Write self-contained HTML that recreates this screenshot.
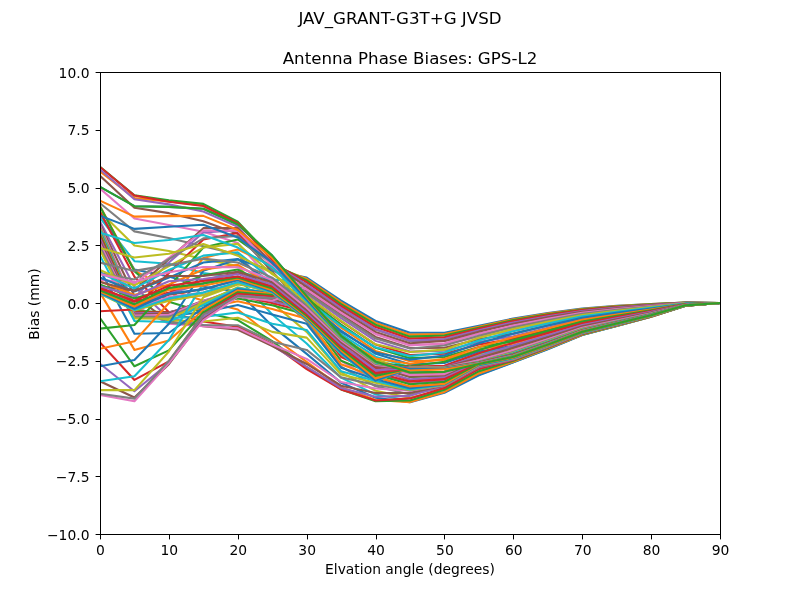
<!DOCTYPE html>
<html lang="en"><head><meta charset="utf-8"><title>JAV_GRANT-G3T+G JVSD</title>
<style>html,body{margin:0;padding:0;background:#fff}svg{display:block}text{font-family:'DejaVu Sans','Liberation Sans',sans-serif;fill:#000}</style></head><body>
<svg width="800" height="600" viewBox="0 0 800 600">
<rect width="800" height="600" fill="#fff"/>
<defs><clipPath id="ax"><rect x="100" y="72" width="620" height="462"/></clipPath></defs>
<g clip-path="url(#ax)" fill="none" stroke-width="2.083" stroke-linejoin="round" stroke-linecap="square">
<polyline stroke="#1f77b4" points="100.00,186.81 134.44,206.21 168.89,206.90 203.33,208.75 237.78,224.46 272.22,255.64 306.67,296.07 341.11,335.80 375.56,361.44 410.00,372.53 444.44,371.84 478.89,364.10 513.33,356.82 547.78,344.62 582.22,331.75 616.67,323.53 651.11,315.23 685.56,305.36 720.00,303.00"/>
<polyline stroke="#ff7f0e" points="100.00,171.33 134.44,198.13 168.89,201.36 203.33,205.52 237.78,223.31 272.22,257.26 306.67,296.53 341.11,337.16 375.56,362.78 410.00,374.59 444.44,373.82 478.89,364.79 513.33,357.33 547.78,345.03 582.22,332.06 616.67,323.76 651.11,315.37 685.56,305.40 720.00,303.00"/>
<polyline stroke="#2ca02c" points="100.00,166.71 134.44,195.35 168.89,200.21 203.33,203.90 237.78,221.69 272.22,257.96 306.67,297.92 341.11,339.96 375.56,365.37 410.00,376.92 444.44,375.76 478.89,365.83 513.33,357.98 547.78,345.57 582.22,332.45 616.67,324.07 651.11,315.57 685.56,305.45 720.00,303.00"/>
<polyline stroke="#d62728" points="100.00,166.94 134.44,195.58 168.89,201.82 203.33,205.98 237.78,223.07 272.22,260.26 306.67,300.23 341.11,344.01 375.56,368.47 410.00,380.19 444.44,378.03 478.89,366.91 513.33,358.66 547.78,346.13 582.22,332.86 616.67,324.38 651.11,315.77 685.56,305.50 720.00,303.00"/>
<polyline stroke="#9467bd" points="100.00,169.48 134.44,199.28 168.89,204.36 203.33,211.52 237.78,226.77 272.22,264.88 306.67,303.46 341.11,349.20 375.56,372.30 410.00,383.85 444.44,380.38 478.89,368.14 513.33,359.36 547.78,346.72 582.22,333.29 616.67,324.71 651.11,315.97 685.56,305.55 720.00,303.00"/>
<polyline stroke="#8c564b" points="100.00,175.72 134.44,207.83 168.89,213.14 203.33,221.23 237.78,233.70 272.22,271.81 306.67,307.62 341.11,354.81 375.56,376.75 410.00,387.31 444.44,382.69 478.89,369.63 513.33,360.07 547.78,347.30 582.22,333.72 616.67,325.04 651.11,316.18 685.56,305.60 720.00,303.00"/>
<polyline stroke="#e377c2" points="100.00,188.66 134.44,218.45 168.89,224.92 203.33,231.85 237.78,242.94 272.22,281.06 306.67,313.39 341.11,360.75 375.56,381.54 410.00,390.78 444.44,385.00 478.89,371.14 513.33,360.75 547.78,347.86 582.22,334.13 616.67,325.35 651.11,316.38 685.56,305.65 720.00,303.00"/>
<polyline stroke="#7f7f7f" points="100.00,203.21 134.44,231.39 168.89,238.09 203.33,246.17 237.78,254.49 272.22,291.45 306.67,321.48 341.11,366.60 375.56,386.32 410.00,394.42 444.44,387.31 478.89,372.51 513.33,361.40 547.78,348.40 582.22,334.53 616.67,325.65 651.11,316.58 685.56,305.70 720.00,303.00"/>
<polyline stroke="#bcbd22" points="100.00,211.75 134.44,245.48 168.89,251.02 203.33,259.11 237.78,266.04 272.22,303.00 306.67,331.88 341.11,372.30 375.56,390.78 410.00,397.71 444.44,389.62 478.89,373.69 513.33,361.90 547.78,348.82 582.22,334.83 616.67,325.89 651.11,316.72 685.56,305.74 720.00,303.00"/>
<polyline stroke="#17becf" points="100.00,217.76 134.44,261.19 168.89,263.73 203.33,272.97 237.78,277.59 272.22,314.55 306.67,343.43 341.11,377.65 375.56,394.56 410.00,400.71 444.44,391.94 478.89,374.74 513.33,362.22 547.78,349.08 582.22,335.02 616.67,326.03 651.11,316.82 685.56,305.76 720.00,303.00"/>
<polyline stroke="#1f77b4" points="100.00,212.91 134.44,269.50 168.89,276.44 203.33,286.83 237.78,291.45 272.22,326.10 306.67,353.82 341.11,382.69 375.56,397.71 410.00,402.33 444.44,392.86 478.89,375.30 513.33,362.37 547.78,349.20 582.22,335.11 616.67,326.10 651.11,316.86 685.56,305.77 720.00,303.00"/>
<polyline stroke="#ff7f0e" points="100.00,205.98 134.44,270.66 168.89,289.14 203.33,300.69 237.78,309.47 272.22,336.50 306.67,361.90 341.11,387.31 375.56,400.02 410.00,402.10 444.44,391.94 478.89,373.45 513.33,361.67 547.78,348.63 582.22,334.69 616.67,325.78 651.11,316.66 685.56,305.72 720.00,303.00"/>
<polyline stroke="#2ca02c" points="100.00,206.44 134.44,271.12 168.89,301.84 203.33,312.24 237.78,320.09 272.22,341.12 306.67,367.22 341.11,389.39 375.56,401.18 410.00,400.48 444.44,389.86 478.89,371.14 513.33,360.75 547.78,347.86 582.22,334.13 616.67,325.35 651.11,316.38 685.56,305.65 720.00,303.00"/>
<polyline stroke="#d62728" points="100.00,211.99 134.44,276.67 168.89,312.24 203.33,321.48 237.78,326.79 272.22,344.12 306.67,369.07 341.11,389.39 375.56,400.48 410.00,398.40 444.44,388.01 478.89,368.83 513.33,360.10 547.78,347.33 582.22,333.74 616.67,325.05 651.11,316.19 685.56,305.60 720.00,303.00"/>
<polyline stroke="#9467bd" points="100.00,221.46 134.44,286.83 168.89,318.01 203.33,324.94 237.78,328.87 272.22,345.50 306.67,366.99 341.11,388.01 375.56,396.79 410.00,395.86 444.44,385.81 478.89,367.22 513.33,359.60 547.78,346.91 582.22,333.43 616.67,324.82 651.11,316.04 685.56,305.57 720.00,303.00"/>
<polyline stroke="#8c564b" points="100.00,223.87 134.44,296.07 168.89,321.48 203.33,326.10 237.78,329.80 272.22,345.97 306.67,363.98 341.11,385.70 375.56,393.09 410.00,392.86 444.44,385.47 478.89,366.52 513.33,359.21 547.78,346.59 582.22,333.20 616.67,324.64 651.11,315.93 685.56,305.54 720.00,303.00"/>
<polyline stroke="#e377c2" points="100.00,225.38 134.44,305.31 168.89,323.79 203.33,326.10 237.78,328.18 272.22,344.58 306.67,358.90 341.11,382.00 375.56,388.47 410.00,390.78 444.44,385.22 478.89,366.06 513.33,358.90 547.78,346.34 582.22,333.01 616.67,324.50 651.11,315.84 685.56,305.52 720.00,303.00"/>
<polyline stroke="#7f7f7f" points="100.00,226.99 134.44,307.62 168.89,322.63 203.33,324.94 237.78,325.18 272.22,341.81 306.67,349.89 341.11,377.38 375.56,385.00 410.00,390.32 444.44,385.00 478.89,365.68 513.33,358.66 547.78,346.14 582.22,332.87 616.67,324.39 651.11,315.77 685.56,305.50 720.00,303.00"/>
<polyline stroke="#bcbd22" points="100.00,228.45 134.44,308.77 168.89,320.32 203.33,321.48 237.78,317.78 272.22,331.88 306.67,337.65 341.11,374.61 375.56,382.69 410.00,389.86 444.44,384.77 478.89,365.37 513.33,358.47 547.78,345.98 582.22,332.75 616.67,324.30 651.11,315.71 685.56,305.49 720.00,303.00"/>
<polyline stroke="#17becf" points="100.00,229.87 134.44,309.41 168.89,317.93 203.33,316.86 237.78,312.47 272.22,323.79 306.67,330.03 341.11,371.14 375.56,380.95 410.00,389.39 444.44,384.54 478.89,365.16 513.33,358.27 547.78,345.81 582.22,332.63 616.67,324.20 651.11,315.65 685.56,305.47 720.00,303.00"/>
<polyline stroke="#1f77b4" points="100.00,231.39 134.44,309.93 168.89,315.71 203.33,312.24 237.78,305.08 272.22,314.55 306.67,323.79 341.11,367.68 375.56,379.23 410.00,388.24 444.44,384.31 478.89,364.91 513.33,357.98 547.78,345.57 582.22,332.45 616.67,324.07 651.11,315.57 685.56,305.45 720.00,303.00"/>
<polyline stroke="#ff7f0e" points="100.00,232.98 134.44,310.46 168.89,313.48 203.33,308.32 237.78,301.22 272.22,309.03 306.67,318.71 341.11,364.26 375.56,377.00 410.00,386.39 444.44,383.85 478.89,364.34 513.33,357.50 547.78,345.17 582.22,332.16 616.67,323.84 651.11,315.42 685.56,305.41 720.00,303.00"/>
<polyline stroke="#2ca02c" points="100.00,234.59 134.44,311.08 168.89,312.24 203.33,305.31 237.78,298.38 272.22,305.31 306.67,314.55 341.11,360.75 375.56,374.61 410.00,384.31 444.44,381.77 478.89,363.52 513.33,356.79 547.78,344.59 582.22,331.74 616.67,323.52 651.11,315.22 685.56,305.36 720.00,303.00"/>
<polyline stroke="#d62728" points="100.00,236.34 134.44,312.06 168.89,312.39 203.33,303.14 237.78,295.74 272.22,302.98 306.67,311.97 341.11,356.98 375.56,372.34 410.00,381.77 444.44,379.23 478.89,362.47 513.33,355.93 547.78,343.88 582.22,331.22 616.67,323.12 651.11,314.96 685.56,305.30 720.00,303.00"/>
<polyline stroke="#9467bd" points="100.00,238.32 134.44,313.31 168.89,312.80 203.33,301.40 237.78,293.40 272.22,301.23 306.67,309.93 341.11,353.07 375.56,370.07 410.00,379.23 444.44,376.92 478.89,361.21 513.33,354.98 547.78,343.09 582.22,330.63 616.67,322.68 651.11,314.68 685.56,305.23 720.00,303.00"/>
<polyline stroke="#8c564b" points="100.00,240.68 134.44,314.55 168.89,313.39 203.33,300.69 237.78,291.45 272.22,299.53 306.67,308.05 341.11,349.20 375.56,367.68 410.00,376.69 444.44,375.30 478.89,359.90 513.33,353.82 547.78,342.13 582.22,329.93 616.67,322.14 651.11,314.34 685.56,305.14 720.00,303.00"/>
<polyline stroke="#e377c2" points="100.00,243.41 134.44,315.62 168.89,314.78 203.33,301.02 237.78,289.60 272.22,297.49 306.67,306.47 341.11,345.39 375.56,365.11 410.00,375.07 444.44,374.15 478.89,358.44 513.33,352.39 547.78,340.96 582.22,329.07 616.67,321.48 651.11,313.92 685.56,305.04 720.00,303.00"/>
<polyline stroke="#7f7f7f" points="100.00,246.41 134.44,316.86 168.89,316.86 203.33,301.87 237.78,287.99 272.22,295.50 306.67,305.25 341.11,341.58 375.56,362.41 410.00,372.72 444.44,371.80 478.89,356.76 513.33,350.81 547.78,339.65 582.22,328.12 616.67,320.75 651.11,313.45 685.56,304.92 720.00,303.00"/>
<polyline stroke="#bcbd22" points="100.00,249.87 134.44,318.34 168.89,318.81 203.33,303.00 237.78,287.29 272.22,294.22 306.67,304.16 341.11,337.81 375.56,359.61 410.00,369.99 444.44,368.83 478.89,354.98 513.33,349.20 547.78,338.32 582.22,327.14 616.67,320.00 651.11,312.98 685.56,304.80 720.00,303.00"/>
<polyline stroke="#17becf" points="100.00,255.64 134.44,321.02 168.89,321.94 203.33,305.03 237.78,287.93 272.22,293.58 306.67,303.07 341.11,334.17 375.56,356.74 410.00,367.17 444.44,366.00 478.89,353.30 513.33,347.56 547.78,336.96 582.22,326.15 616.67,319.24 651.11,312.50 685.56,304.68 720.00,303.00"/>
<polyline stroke="#1f77b4" points="100.00,269.97 134.44,333.72 168.89,333.03 203.33,307.62 237.78,289.14 272.22,293.30 306.67,301.84 341.11,330.72 375.56,353.82 410.00,364.22 444.44,363.06 478.89,351.51 513.33,345.74 547.78,335.46 582.22,325.04 616.67,318.40 651.11,311.96 685.56,304.55 720.00,303.00"/>
<polyline stroke="#ff7f0e" points="100.00,292.61 134.44,349.89 168.89,340.42 203.33,309.93 237.78,290.52 272.22,293.87 306.67,300.22 341.11,327.57 375.56,350.88 410.00,361.22 444.44,360.03 478.89,349.39 513.33,343.62 547.78,333.71 582.22,323.76 616.67,317.42 651.11,311.33 685.56,304.39 720.00,303.00"/>
<polyline stroke="#2ca02c" points="100.00,318.01 134.44,366.29 168.89,350.36 203.33,312.24 237.78,292.17 272.22,295.15 306.67,298.25 341.11,324.58 375.56,347.85 410.00,358.16 444.44,356.92 478.89,347.05 513.33,341.27 547.78,331.77 582.22,322.34 616.67,316.33 651.11,310.64 685.56,304.22 720.00,303.00"/>
<polyline stroke="#d62728" points="100.00,342.50 134.44,379.92 168.89,361.44 203.33,314.55 237.78,293.76 272.22,296.53 306.67,296.07 341.11,321.48 375.56,344.58 410.00,354.98 444.44,353.82 478.89,344.58 513.33,338.81 547.78,329.73 582.22,320.85 616.67,315.19 651.11,309.92 685.56,304.04 720.00,303.00"/>
<polyline stroke="#9467bd" points="100.00,363.75 134.44,391.24 168.89,363.06 203.33,317.07 237.78,295.42 272.22,298.15 306.67,293.60 341.11,318.11 375.56,340.87 410.00,351.60 444.44,350.78 478.89,342.00 513.33,336.28 547.78,327.65 582.22,319.32 616.67,314.02 651.11,309.17 685.56,303.85 720.00,303.00"/>
<polyline stroke="#8c564b" points="100.00,381.31 134.44,397.48 168.89,364.22 203.33,319.17 237.78,296.53 272.22,299.88 306.67,290.82 341.11,314.60 375.56,336.88 410.00,348.09 444.44,347.75 478.89,339.28 513.33,333.62 547.78,325.45 582.22,317.71 616.67,312.79 651.11,308.39 685.56,303.65 720.00,303.00"/>
<polyline stroke="#e377c2" points="100.00,394.94 134.44,401.18 168.89,363.06 203.33,320.32 237.78,296.76 272.22,300.69 306.67,287.99 341.11,311.08 375.56,333.03 410.00,344.58 444.44,344.58 478.89,336.50 513.33,330.72 547.78,323.05 582.22,315.95 616.67,311.44 651.11,307.53 685.56,303.44 720.00,303.00"/>
<polyline stroke="#7f7f7f" points="100.00,393.78 134.44,398.63 168.89,360.75 203.33,314.55 237.78,296.07 272.22,298.38 306.67,285.03 341.11,307.43 375.56,329.52 410.00,341.01 444.44,341.06 478.89,333.61 513.33,327.32 547.78,320.24 582.22,313.90 616.67,309.87 651.11,306.53 685.56,303.19 720.00,303.00"/>
<polyline stroke="#bcbd22" points="100.00,390.09 134.44,390.09 168.89,351.51 203.33,297.23 237.78,284.52 272.22,289.14 306.67,282.21 341.11,304.16 375.56,326.10 410.00,337.65 444.44,337.65 478.89,330.72 513.33,323.79 547.78,317.32 582.22,311.76 616.67,308.23 651.11,305.49 685.56,302.93 720.00,303.00"/>
<polyline stroke="#17becf" points="100.00,381.31 134.44,376.23 168.89,339.96 203.33,283.37 237.78,271.81 272.22,279.90 306.67,279.90 341.11,301.84 375.56,322.63 410.00,334.88 444.44,334.88 478.89,327.95 513.33,320.56 547.78,314.65 582.22,309.80 616.67,306.73 651.11,304.54 685.56,302.69 720.00,303.00"/>
<polyline stroke="#1f77b4" points="100.00,366.29 134.44,360.06 168.89,323.79 203.33,270.66 237.78,259.34 272.22,270.66 306.67,277.59 341.11,300.69 375.56,321.02 410.00,332.80 444.44,332.71 478.89,325.87 513.33,318.48 547.78,312.93 582.22,308.54 616.67,305.77 651.11,303.92 685.56,302.54 720.00,303.00"/>
<polyline stroke="#ff7f0e" points="100.00,348.74 134.44,341.35 168.89,303.00 203.33,257.96 237.78,249.41 272.22,266.04 306.67,278.75 341.11,302.31 375.56,322.87 410.00,334.65 444.44,334.09 478.89,326.79 513.33,319.17 547.78,313.51 582.22,308.96 616.67,306.09 651.11,304.13 685.56,302.59 720.00,303.00"/>
<polyline stroke="#2ca02c" points="100.00,328.64 134.44,324.94 168.89,286.83 203.33,247.56 237.78,239.48 272.22,263.73 306.67,280.36 341.11,304.16 375.56,324.71 410.00,336.61 444.44,335.57 478.89,327.72 513.33,320.09 547.78,314.27 582.22,309.52 616.67,306.52 651.11,304.40 685.56,302.66 720.00,303.00"/>
<polyline stroke="#d62728" points="100.00,311.32 134.44,309.47 168.89,272.97 203.33,239.48 237.78,233.01 272.22,262.81 306.67,282.21 341.11,306.00 375.56,327.02 410.00,338.69 444.44,337.30 478.89,328.76 513.33,321.02 547.78,315.03 582.22,310.08 616.67,306.95 651.11,304.67 685.56,302.73 720.00,303.00"/>
<polyline stroke="#9467bd" points="100.00,295.38 134.44,297.69 168.89,262.57 203.33,232.54 237.78,230.24 272.22,262.81 306.67,284.52 341.11,308.08 375.56,329.33 410.00,340.65 444.44,339.04 478.89,330.26 513.33,322.40 547.78,316.18 582.22,310.92 616.67,307.59 651.11,305.08 685.56,302.83 720.00,303.00"/>
<polyline stroke="#8c564b" points="100.00,286.83 134.44,290.29 168.89,259.11 203.33,228.16 237.78,228.16 272.22,263.73 306.67,286.83 341.11,310.39 375.56,331.88 410.00,343.19 444.44,340.88 478.89,331.64 513.33,323.79 547.78,317.32 582.22,311.76 616.67,308.23 651.11,305.49 685.56,302.93 720.00,303.00"/>
<polyline stroke="#e377c2" points="100.00,279.90 134.44,283.37 168.89,257.96 203.33,230.47 237.78,230.70 272.22,266.04 306.67,289.60 341.11,312.93 375.56,334.19 410.00,345.50 444.44,343.19 478.89,333.72 513.33,325.41 547.78,318.66 582.22,312.74 616.67,308.98 651.11,305.97 685.56,303.05 720.00,303.00"/>
<polyline stroke="#7f7f7f" points="100.00,272.97 134.44,279.44 168.89,259.11 203.33,238.32 237.78,236.01 272.22,269.50 306.67,292.61 341.11,315.94 375.56,338.57 410.00,348.51 444.44,345.50 478.89,335.80 513.33,327.25 547.78,320.19 582.22,313.86 616.67,309.84 651.11,306.51 685.56,303.18 720.00,303.00"/>
<polyline stroke="#bcbd22" points="100.00,269.97 134.44,285.44 168.89,266.04 203.33,247.56 237.78,243.86 272.22,274.12 306.67,296.07 341.11,320.79 375.56,344.35 410.00,351.97 444.44,349.66 478.89,337.65 513.33,329.10 547.78,321.71 582.22,314.98 616.67,310.69 651.11,307.06 685.56,303.32 720.00,303.00"/>
<polyline stroke="#17becf" points="100.00,272.97 134.44,288.45 168.89,269.97 203.33,255.64 237.78,252.41 272.22,279.90 306.67,300.69 341.11,326.10 375.56,347.35 410.00,356.13 444.44,352.43 478.89,340.42 513.33,331.18 547.78,323.43 582.22,316.23 616.67,311.66 651.11,307.67 685.56,303.47 720.00,303.00"/>
<polyline stroke="#1f77b4" points="100.00,277.59 134.44,291.45 168.89,277.59 203.33,262.57 237.78,259.11 272.22,283.37 306.67,305.31 341.11,331.88 375.56,352.43 410.00,359.83 444.44,355.44 478.89,343.31 513.33,333.72 547.78,325.53 582.22,317.77 616.67,312.83 651.11,308.42 685.56,303.66 720.00,303.00"/>
<polyline stroke="#ff7f0e" points="100.00,281.36 134.44,294.92 168.89,284.52 203.33,269.50 237.78,264.88 272.22,285.99 306.67,309.23 341.11,337.65 375.56,358.44 410.00,363.75 444.44,358.90 478.89,347.12 513.33,337.19 547.78,328.39 582.22,319.87 616.67,314.44 651.11,309.44 685.56,303.92 720.00,303.00"/>
<polyline stroke="#2ca02c" points="100.00,284.52 134.44,298.38 168.89,289.14 203.33,275.28 237.78,269.50 272.22,287.99 306.67,312.24 341.11,342.27 375.56,363.06 410.00,366.29 444.44,361.79 478.89,350.12 513.33,339.96 547.78,330.68 582.22,321.55 616.67,315.72 651.11,310.26 685.56,304.12 720.00,303.00"/>
<polyline stroke="#d62728" points="100.00,287.31 134.44,301.84 168.89,292.61 203.33,279.90 237.78,272.97 272.22,289.46 306.67,314.18 341.11,346.19 375.56,367.35 410.00,366.76 444.44,365.83 478.89,353.24 513.33,342.73 547.78,332.98 582.22,323.22 616.67,317.01 651.11,311.07 685.56,304.33 720.00,303.00"/>
<polyline stroke="#9467bd" points="100.00,289.76 134.44,304.16 168.89,293.76 203.33,283.37 237.78,276.44 272.22,290.64 306.67,315.69 341.11,349.20 375.56,371.14 410.00,367.01 444.44,366.99 478.89,356.13 513.33,345.50 547.78,335.27 582.22,324.90 616.67,318.29 651.11,311.89 685.56,304.53 720.00,303.00"/>
<polyline stroke="#8c564b" points="100.00,291.45 134.44,306.47 168.89,294.68 203.33,289.14 237.78,279.90 272.22,291.45 306.67,316.86 341.11,351.37 375.56,374.33 410.00,367.22 444.44,367.27 478.89,357.98 513.33,347.81 547.78,337.17 582.22,326.30 616.67,319.36 651.11,312.57 685.56,304.70 720.00,303.00"/>
<polyline stroke="#e377c2" points="100.00,292.56 134.44,308.77 168.89,296.99 203.33,292.61 237.78,282.21 272.22,292.01 306.67,317.92 341.11,353.11 375.56,376.92 410.00,367.45 444.44,367.44 478.89,360.29 513.33,350.36 547.78,339.27 582.22,327.84 616.67,320.54 651.11,313.32 685.56,304.89 720.00,303.00"/>
<polyline stroke="#7f7f7f" points="100.00,293.42 134.44,309.93 168.89,300.00 203.33,294.92 237.78,283.37 272.22,292.43 306.67,318.80 341.11,353.82 375.56,378.96 410.00,367.65 444.44,367.56 478.89,361.67 513.33,351.97 547.78,340.61 582.22,328.82 616.67,321.29 651.11,313.80 685.56,305.01 720.00,303.00"/>
<polyline stroke="#bcbd22" points="100.00,293.76 134.44,310.39 168.89,300.69 203.33,294.92 237.78,283.37 272.22,292.61 306.67,319.17 341.11,353.82 375.56,380.38 410.00,367.84 444.44,367.68 478.89,362.01 513.33,352.78 547.78,341.28 582.22,329.31 616.67,321.66 651.11,314.04 685.56,305.07 720.00,303.00"/>
<polyline stroke="#17becf" points="100.00,293.38 134.44,309.93 168.89,298.38 203.33,292.61 237.78,282.21 272.22,292.23 306.67,318.79 341.11,353.82 375.56,381.08 410.00,368.00 444.44,367.81 478.89,362.21 513.33,353.36 547.78,341.76 582.22,329.66 616.67,321.93 651.11,314.21 685.56,305.11 720.00,303.00"/>
<polyline stroke="#1f77b4" points="100.00,292.61 134.44,308.77 168.89,293.76 203.33,289.14 237.78,279.90 272.22,291.45 306.67,318.01 341.11,352.52 375.56,380.62 410.00,368.14 444.44,367.92 478.89,362.37 513.33,353.82 547.78,342.14 582.22,329.94 616.67,322.14 651.11,314.34 685.56,305.14 720.00,303.00"/>
<polyline stroke="#ff7f0e" points="100.00,291.60 134.44,306.47 168.89,289.60 203.33,285.68 237.78,278.75 272.22,290.28 306.67,317.01 341.11,350.36 375.56,378.54 410.00,368.26 444.44,368.03 478.89,362.53 513.33,354.23 547.78,342.48 582.22,330.18 616.67,322.33 651.11,314.46 685.56,305.17 720.00,303.00"/>
<polyline stroke="#2ca02c" points="100.00,290.29 134.44,304.16 168.89,287.99 203.33,283.37 237.78,277.59 272.22,288.58 306.67,315.65 341.11,348.68 375.56,376.00 410.00,368.35 444.44,368.14 478.89,362.67 513.33,354.59 547.78,342.77 582.22,330.40 616.67,322.50 651.11,314.57 685.56,305.20 720.00,303.00"/>
<polyline stroke="#d62728" points="100.00,288.68 134.44,300.69 168.89,285.68 203.33,281.06 237.78,276.44 272.22,286.58 306.67,314.02 341.11,346.89 375.56,372.99 410.00,368.44 444.44,368.26 478.89,362.80 513.33,354.91 547.78,343.04 582.22,330.59 616.67,322.65 651.11,314.66 685.56,305.22 720.00,303.00"/>
<polyline stroke="#9467bd" points="100.00,286.14 134.44,296.07 168.89,281.29 203.33,278.98 237.78,274.12 272.22,284.52 306.67,312.24 341.11,344.58 375.56,369.99 410.00,368.52 444.44,368.37 478.89,362.93 513.33,355.19 547.78,343.27 582.22,330.76 616.67,322.77 651.11,314.74 685.56,305.24 720.00,303.00"/>
<polyline stroke="#8c564b" points="100.00,281.98 134.44,290.99 168.89,275.97 203.33,275.97 237.78,271.81 272.22,282.28 306.67,310.05 341.11,342.27 375.56,366.52 410.00,368.60 444.44,368.49 478.89,363.06 513.33,355.44 547.78,343.47 582.22,330.91 616.67,322.89 651.11,314.82 685.56,305.26 720.00,303.00"/>
<polyline stroke="#e377c2" points="100.00,274.12 134.44,281.98 168.89,272.28 203.33,266.96 237.78,267.19 272.22,279.90 306.67,307.62 341.11,340.32 375.56,364.91 410.00,368.68 444.44,368.60 478.89,363.20 513.33,355.65 547.78,343.65 582.22,331.04 616.67,322.99 651.11,314.88 685.56,305.28 720.00,303.00"/>
<polyline stroke="#7f7f7f" points="100.00,262.57 134.44,270.89 168.89,265.12 203.33,258.65 237.78,262.57 272.22,277.59 306.67,305.23 341.11,338.81 375.56,363.86 410.00,368.75 444.44,368.71 478.89,363.33 513.33,355.83 547.78,343.80 582.22,331.15 616.67,323.07 651.11,314.93 685.56,305.29 720.00,303.00"/>
<polyline stroke="#bcbd22" points="100.00,248.02 134.44,257.49 168.89,253.80 203.33,244.09 237.78,255.64 272.22,272.97 306.67,303.00 341.11,337.82 375.56,363.06 410.00,368.83 444.44,368.80 478.89,363.46 513.33,356.00 547.78,343.94 582.22,331.25 616.67,323.15 651.11,314.98 685.56,305.30 720.00,303.00"/>
<polyline stroke="#17becf" points="100.00,232.78 134.44,242.94 168.89,239.94 203.33,235.09 237.78,247.56 272.22,267.19 306.67,301.28 341.11,337.06 375.56,362.39 410.00,368.92 444.44,368.91 478.89,363.60 513.33,356.17 547.78,344.08 582.22,331.36 616.67,323.23 651.11,315.03 685.56,305.32 720.00,303.00"/>
<polyline stroke="#1f77b4" points="100.00,215.68 134.44,228.85 168.89,226.77 203.33,224.69 237.78,237.40 272.22,262.57 306.67,299.53 341.11,336.50 375.56,361.90 410.00,369.07 444.44,369.07 478.89,363.75 513.33,356.36 547.78,344.24 582.22,331.47 616.67,323.32 651.11,315.09 685.56,305.33 720.00,303.00"/>
<polyline stroke="#ff7f0e" points="100.00,200.67 134.44,216.61 168.89,216.14 203.33,215.91 237.78,230.00 272.22,257.96 306.67,297.23 341.11,336.03 375.56,361.59 410.00,370.45 444.44,369.41 478.89,363.89 513.33,356.56 547.78,344.40 582.22,331.60 616.67,323.41 651.11,315.15 685.56,305.34 720.00,303.00"/>
<polyline stroke="#2ca02c" points="100.00,186.81 134.44,206.21 168.89,206.90 203.33,208.75 237.78,224.46 272.22,255.64 306.67,296.07 341.11,335.80 375.56,361.44 410.00,372.53 444.44,371.84 478.89,364.10 513.33,356.82 547.78,344.62 582.22,331.75 616.67,323.53 651.11,315.23 685.56,305.36 720.00,303.00"/>
</g>
<g stroke="#000" stroke-width="1" fill="none">
<line x1="100.50" y1="534.5" x2="100.50" y2="539.4"/>
<line x1="169.50" y1="534.5" x2="169.50" y2="539.4"/>
<line x1="238.50" y1="534.5" x2="238.50" y2="539.4"/>
<line x1="307.50" y1="534.5" x2="307.50" y2="539.4"/>
<line x1="376.50" y1="534.5" x2="376.50" y2="539.4"/>
<line x1="444.50" y1="534.5" x2="444.50" y2="539.4"/>
<line x1="513.50" y1="534.5" x2="513.50" y2="539.4"/>
<line x1="582.50" y1="534.5" x2="582.50" y2="539.4"/>
<line x1="651.50" y1="534.5" x2="651.50" y2="539.4"/>
<line x1="720.50" y1="534.5" x2="720.50" y2="539.4"/>
<line x1="95.6" y1="534.50" x2="100.5" y2="534.50"/>
<line x1="95.6" y1="476.50" x2="100.5" y2="476.50"/>
<line x1="95.6" y1="419.50" x2="100.5" y2="419.50"/>
<line x1="95.6" y1="361.50" x2="100.5" y2="361.50"/>
<line x1="95.6" y1="303.50" x2="100.5" y2="303.50"/>
<line x1="95.6" y1="245.50" x2="100.5" y2="245.50"/>
<line x1="95.6" y1="188.50" x2="100.5" y2="188.50"/>
<line x1="95.6" y1="130.50" x2="100.5" y2="130.50"/>
<line x1="95.6" y1="72.50" x2="100.5" y2="72.50"/>
<rect x="100.5" y="72.5" width="620" height="462" stroke-linejoin="miter"/>
</g>
<g font-size="13.89" text-anchor="middle">
<text x="100.50" y="555.1">0</text>
<text x="169.39" y="555.1">10</text>
<text x="238.28" y="555.1">20</text>
<text x="307.17" y="555.1">30</text>
<text x="376.06" y="555.1">40</text>
<text x="444.94" y="555.1">50</text>
<text x="513.83" y="555.1">60</text>
<text x="582.72" y="555.1">70</text>
<text x="651.61" y="555.1">80</text>
<text x="720.50" y="555.1">90</text>
<text x="410" y="574.2">Elvation angle (degrees)</text>
<text transform="translate(39.27,304) rotate(-90)">Bias (mm)</text>
</g>
<g font-size="13.89" text-anchor="end">
<text x="89.5" y="539.60">−10.0</text>
<text x="89.5" y="481.85">−7.5</text>
<text x="89.5" y="424.10">−5.0</text>
<text x="89.5" y="366.35">−2.5</text>
<text x="89.5" y="308.60">0.0</text>
<text x="89.5" y="250.85">2.5</text>
<text x="89.5" y="193.10">5.0</text>
<text x="89.5" y="135.35">7.5</text>
<text x="89.5" y="77.60">10.0</text>
</g>
<g font-size="16.67" text-anchor="middle">
<text x="410" y="63.67">Antenna Phase Biases: GPS-L2</text>
<text x="400" y="24.37">JAV_GRANT-G3T+G JVSD</text>
</g>
</svg></body></html>
